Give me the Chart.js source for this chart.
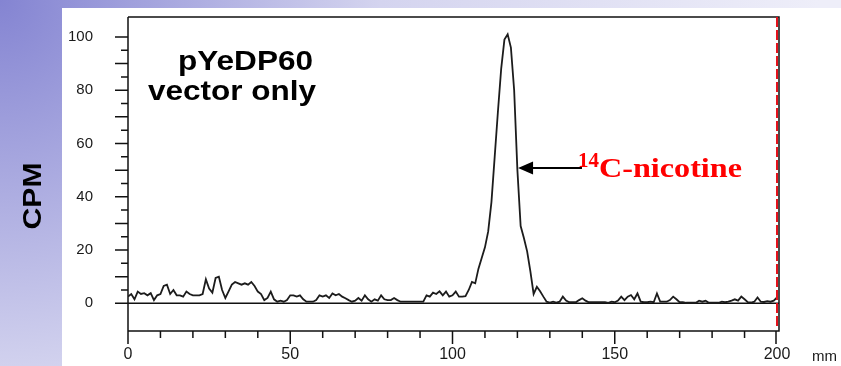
<!DOCTYPE html>
<html>
<head>
<meta charset="utf-8">
<script src="https://cdn.jsdelivr.net/npm/chart.js@4.4.1/dist/chart.umd.min.js"></script>
<style>
    html, body { margin: 0; padding: 0; width: 841px; height: 366px; overflow: hidden; }
    body {
        position: relative;
        background: radial-gradient(circle at 0 0, #8484d2 0px, #d4d4ef 380px, #eeeef9 820px);
    }
    #panel { position: absolute; left: 62px; top: 8px; right: 0; bottom: 0; background: #ffffff; }
    #wrap { position: absolute; left: 0; top: 0; width: 841px; height: 366px; }
</style>
</head>
<body>
<div id="panel"></div>
<div id="wrap"><canvas id="cpmChart"></canvas></div>
<script>
// radio-TLC scan, one reading per mm of plate
const MM_STEP = 1;
const cpm = [
    2.5, 3.5, 1.5, 4.4, 3.5, 3.8, 3, 3.8, 1.2, 3,
    3.5, 6.5, 7, 3.5, 5, 3, 3, 2.5, 4.4, 3.5,
    3, 3, 3, 3.5, 9, 5.5, 4, 9.5, 10, 5,
    2, 4.5, 7, 8, 7.5, 7, 7.5, 7, 8, 6.5,
    4.4, 3.5, 1.2, 2, 4.4, 1.5, 0.6, 1, 0.6, 1.2,
    3, 3, 2.5, 3, 1.5, 0.6, 0.6, 0.6, 1.2, 3,
    2.5, 3, 2, 3.7, 3, 3.5, 2.5, 1.9, 1.2, 0.6,
    1, 2, 1, 3, 1.5, 0.6, 1.5, 1, 3, 1.5,
    1.2, 1.2, 2, 1.2, 0.6, 0.6, 0.6, 0.6, 0.6, 0.6,
    0.6, 0.6, 3, 2.5, 4, 3.5, 4.5, 3, 4.4, 2.5,
    3, 4.4, 2.5, 2.5, 2.7, 5, 8, 7.5, 13, 17,
    21, 27, 38, 55, 72, 88, 99, 101, 96, 80,
    50, 29, 24.5, 19.5, 12, 3.5, 6.2, 4.5, 2.5, 0.6,
    0.3, 0.6, 0.3, 0.6, 2.5, 1, 0.4, 0.4, 0.4, 1.2,
    1.9, 1, 0.4, 0.4, 0.4, 0.4, 0.4, 0.4, 0.2, 0.6,
    0.4, 1, 2.5, 1.2, 2.5, 3.1, 1.5, 3.7, 0.6, 0.4,
    0.4, 0.6, 0.4, 3.7, 0.6, 0.6, 0.6, 1.2, 2.5, 1.5,
    0.4, 0.4, 0.2, 0.2, 0.2, 0.2, 1, 0.6, 1, 0.2,
    0.2, 0.2, 0.2, 0.6, 0.4, 0.6, 1, 1.5, 1, 2.5,
    1.5, 0.4, 0.3, 0.6, 2.2, 0.6, 0.5, 0.8, 0.6, 1,
    2.2
];

const yTickLabels = [0, 20, 40, 60, 80, 100];
const yMajorMarks = [0, 10, 20, 30, 40, 50, 60, 70, 80, 90, 100];
const yMinorMarks = [5, 15, 25, 35, 45, 55, 65, 75, 85, 95];
const xTickLabels = [0, 50, 100, 150, 200];
const xMinorMarks = [10, 20, 30, 40, 60, 70, 80, 90, 110, 120, 130, 140, 160, 170, 180, 190];

const sampleTitle = ['pYeDP60', 'vector only'];
const peakLabel = { sup: '14', text: 'C-nicotine', x: 120.2, y: 50.8, tailX: 139.9 };
const solventFront = 200;

function drawStretched(ctx, text, x, y, font, targetWidth, color) {
    ctx.save();
    ctx.font = font;
    const w = ctx.measureText(text).width;
    ctx.translate(x, y);
    ctx.scale(targetWidth ? targetWidth / w : 1, 1);
    ctx.fillStyle = color;
    ctx.textAlign = 'left';
    ctx.textBaseline = 'alphabetic';
    ctx.fillText(text, 0, 0);
    ctx.restore();
}

const framePlugin = {
    id: 'frame',
    beforeDatasetsDraw(chart) {
        const { ctx, chartArea: a, scales: { x, y } } = chart;
        const right = a.right + 2;
        const y0 = y.getPixelForValue(0);
        ctx.save();
        ctx.strokeStyle = '#111111';
        ctx.lineWidth = 1.5;
        ctx.beginPath();
        ctx.moveTo(a.left, a.top);
        ctx.lineTo(right, a.top);
        ctx.lineTo(right, a.bottom);
        ctx.lineTo(a.left, a.bottom);
        ctx.moveTo(a.left, a.top);
        ctx.lineTo(a.left, a.bottom + 13);
        ctx.moveTo(a.left - 13, y0);
        ctx.lineTo(right, y0);

        yMajorMarks.forEach(v => {
            const p = y.getPixelForValue(v);
            ctx.moveTo(a.left - 13, p);
            ctx.lineTo(a.left, p);
        });
        yMinorMarks.forEach(v => {
            const p = y.getPixelForValue(v);
            ctx.moveTo(a.left - 7, p);
            ctx.lineTo(a.left, p);
        });
        xTickLabels.forEach(v => {
            const p = x.getPixelForValue(v) - (v === 200 ? 1 : 0);
            ctx.moveTo(p, a.bottom);
            ctx.lineTo(p, a.bottom + 13);
        });
        xMinorMarks.forEach(v => {
            const p = x.getPixelForValue(v);
            ctx.moveTo(p, a.bottom);
            ctx.lineTo(p, a.bottom + 7);
        });
        ctx.stroke();
        ctx.restore();
    },
    afterDraw(chart) {
        const { ctx, chartArea: a, scales: { x, y } } = chart;
        ctx.save();

        // solvent front
        const fx = x.getPixelForValue(solventFront);
        ctx.strokeStyle = '#e5121c';
        ctx.lineWidth = 2;
        ctx.setLineDash([10, 3]);
        ctx.beginPath();
        ctx.moveTo(fx, a.top);
        ctx.lineTo(fx, a.bottom - 3);
        ctx.stroke();
        ctx.setLineDash([]);

        // titles
        drawStretched(ctx, sampleTitle[0], 178, 70, 'bold 28px "Liberation Sans", Arial, sans-serif', 135, '#000');
        drawStretched(ctx, sampleTitle[1], 148, 100, 'bold 28px "Liberation Sans", Arial, sans-serif', 168, '#000');

        // y axis title
        ctx.save();
        ctx.translate(33, 196);
        ctx.rotate(-Math.PI / 2);
        ctx.font = 'bold 26px "Liberation Sans", Arial, sans-serif';
        const cw = ctx.measureText('CPM').width;
        ctx.scale(67 / cw, 1);
        ctx.fillStyle = '#000';
        ctx.textAlign = 'center';
        ctx.textBaseline = 'middle';
        ctx.fillText('CPM', 0, 1);
        ctx.restore();

        // unit
        ctx.font = '15px "Liberation Sans", Arial, sans-serif';
        ctx.fillStyle = '#1a1a1a';
        ctx.textBaseline = 'middle';
        ctx.fillText('mm', 812, 357);

        // peak arrow + label
        const tipX = x.getPixelForValue(peakLabel.x);
        const tipY = y.getPixelForValue(peakLabel.y);
        const tailX = x.getPixelForValue(peakLabel.tailX);
        ctx.strokeStyle = '#000';
        ctx.lineWidth = 2;
        ctx.beginPath();
        ctx.moveTo(tipX + 12, tipY);
        ctx.lineTo(tailX, tipY);
        ctx.stroke();
        ctx.fillStyle = '#000';
        ctx.beginPath();
        ctx.moveTo(tipX, tipY);
        ctx.lineTo(tipX + 15, tipY - 6.5);
        ctx.lineTo(tipX + 15, tipY + 6.5);
        ctx.closePath();
        ctx.fill();

        drawStretched(ctx, peakLabel.sup, tailX - 4, tipY - 1, 'bold 20px "Liberation Serif", "Times New Roman", serif', 21, '#ff0000');
        drawStretched(ctx, peakLabel.text, tailX + 17, tipY + 9, 'bold 28px "Liberation Serif", "Times New Roman", serif', 143, '#ff0000');

        ctx.restore();
    }
};

const ctx = document.getElementById('cpmChart').getContext('2d');
new Chart(ctx, {
    type: 'line',
    data: {
        datasets: [{
            label: 'CPM',
            data: cpm.map((v, i) => ({ x: i * MM_STEP, y: v })),
            borderColor: '#1c1c1c',
            borderWidth: 1.8,
            pointRadius: 0,
            tension: 0,
            fill: false
        }]
    },
    options: {
        responsive: true,
        maintainAspectRatio: false,
        animation: false,
        layout: { padding: { top: 17, right: 64, bottom: 0, left: 0 } },
        plugins: {
            legend: { display: false },
            tooltip: { enabled: false }
        },
        scales: {
            x: {
                type: 'linear',
                min: 0,
                max: 200,
                afterBuildTicks: s => { s.ticks = xTickLabels.map(v => ({ value: v })); },
                afterFit: s => { s.height = 35; s.paddingLeft = 0; s.paddingRight = 0; },
                grid: { display: false, drawTicks: false, tickLength: 0 },
                border: { display: false },
                ticks: {
                    padding: 14,
                    maxRotation: 0,
                    autoSkip: false,
                    color: '#1a1a1a',
                    font: { family: '"Liberation Sans", Arial, sans-serif', size: 16 }
                }
            },
            y: {
                type: 'linear',
                min: -10.4,
                max: 107.5,
                afterBuildTicks: s => { s.ticks = yTickLabels.map(v => ({ value: v })); },
                afterFit: s => { s.width = 128; s.paddingTop = 0; s.paddingBottom = 0; },
                grid: { display: false, drawTicks: false, tickLength: 0 },
                border: { display: false },
                ticks: {
                    padding: 35,
                    autoSkip: false,
                    color: '#1a1a1a',
                    font: { family: '"Liberation Sans", Arial, sans-serif', size: 15 }
                }
            }
        }
    },
    plugins: [framePlugin]
});
</script>
</body>
</html>
